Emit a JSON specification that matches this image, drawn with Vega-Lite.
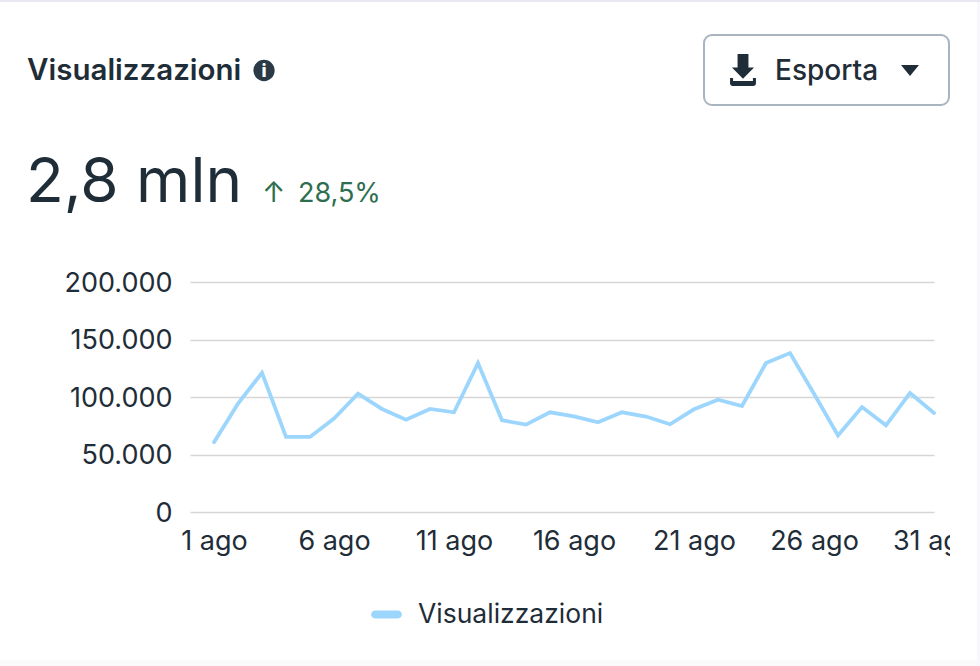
{"$schema":"https://vega.github.io/schema/vega-lite/v6.json","width":744,"height":230,"autosize":{"type":"none"},"padding":{"left":190,"top":282,"right":46,"bottom":154},"background":"#ffffff","config":{"font":"Inter","view":{"stroke":null}},"title":{"text":"Visualizzazioni","anchor":"start","frame":"group","dx":-163,"offset":0,"dy":109,"baseline":"alphabetic","font":"Inter","fontSize":29.5,"fontWeight":600,"color":"#1f2d38"},"layer":[{"data":{"values":[{"date":"2023-08-01","Serie":"Visualizzazioni","v":60700},{"date":"2023-08-02","Serie":"Visualizzazioni","v":94200},{"date":"2023-08-03","Serie":"Visualizzazioni","v":121100},{"date":"2023-08-04","Serie":"Visualizzazioni","v":65300},{"date":"2023-08-05","Serie":"Visualizzazioni","v":65300},{"date":"2023-08-06","Serie":"Visualizzazioni","v":81200},{"date":"2023-08-07","Serie":"Visualizzazioni","v":102900},{"date":"2023-08-08","Serie":"Visualizzazioni","v":89600},{"date":"2023-08-09","Serie":"Visualizzazioni","v":80300},{"date":"2023-08-10","Serie":"Visualizzazioni","v":89600},{"date":"2023-08-11","Serie":"Visualizzazioni","v":86700},{"date":"2023-08-12","Serie":"Visualizzazioni","v":129500},{"date":"2023-08-13","Serie":"Visualizzazioni","v":79800},{"date":"2023-08-14","Serie":"Visualizzazioni","v":76000},{"date":"2023-08-15","Serie":"Visualizzazioni","v":86700},{"date":"2023-08-16","Serie":"Visualizzazioni","v":83200},{"date":"2023-08-17","Serie":"Visualizzazioni","v":78000},{"date":"2023-08-18","Serie":"Visualizzazioni","v":86700},{"date":"2023-08-19","Serie":"Visualizzazioni","v":83000},{"date":"2023-08-20","Serie":"Visualizzazioni","v":76300},{"date":"2023-08-21","Serie":"Visualizzazioni","v":89300},{"date":"2023-08-22","Serie":"Visualizzazioni","v":97700},{"date":"2023-08-23","Serie":"Visualizzazioni","v":92200},{"date":"2023-08-24","Serie":"Visualizzazioni","v":129500},{"date":"2023-08-25","Serie":"Visualizzazioni","v":138200},{"date":"2023-08-26","Serie":"Visualizzazioni","v":102900},{"date":"2023-08-27","Serie":"Visualizzazioni","v":66500},{"date":"2023-08-28","Serie":"Visualizzazioni","v":91300},{"date":"2023-08-29","Serie":"Visualizzazioni","v":75400},{"date":"2023-08-30","Serie":"Visualizzazioni","v":103500},{"date":"2023-08-31","Serie":"Visualizzazioni","v":86100}]},"mark":{"type":"line","strokeWidth":3.8,"strokeCap":"round","strokeJoin":"miter","clip":false},"encoding":{"x":{"field":"date","type":"temporal","title":null,"scale":{"type":"utc","domain":["2023-07-31","2023-08-31"]},"axis":{"values":["2023-08-01","2023-08-06","2023-08-11","2023-08-16","2023-08-21","2023-08-26","2023-08-31"],"labelExpr":"utcFormat(datum.value,'%-d')+' ago'","grid":false,"domain":false,"ticks":false,"labelPadding":16,"labelFontSize":27,"labelColor":"#1f2d38","labelFont":"Inter","labelOverlap":false,"labelBound":false,"labelFlush":false,"labelAngle":0}},"y":{"field":"v","type":"quantitative","title":null,"scale":{"domain":[0,200000]},"axis":{"values":[0,50000,100000,150000,200000],"labelExpr":"replace(format(datum.value,','),',','.')","grid":true,"gridColor":"#d6d6d6","gridWidth":1.6,"domain":false,"ticks":false,"labelPadding":18,"labelOffset":1,"labelFontSize":27,"labelColor":"#1f2d38","labelFont":"Inter"}},"color":{"field":"Serie","type":"nominal","scale":{"range":["#9dd6fd"]},"legend":{"orient":"none","legendX":183,"legendY":319,"direction":"horizontal","title":null,"symbolType":"M-0.85,-0.29 A0.29,0.29 0 0 0 -0.85,0.29 H0.85 A0.29,0.29 0 0 0 0.85,-0.29 Z","symbolSize":729,"symbolStrokeWidth":0,"symbolFillColor":"#9dd6fd","labelFontSize":26.5,"labelLimit":300,"labelColor":"#1f2d38","labelFont":"Inter","labelOffset":18}}}},{"data":{"values":[{"c":"page"}]},"mark":{"type":"rect","fill":"#e9e8f2","clip":false},"encoding":{"x":{"value":-190},"x2":{"value":790},"y":{"value":-282},"y2":{"value":-280}}},{"data":{"values":[{"c":"clip"}]},"mark":{"type":"rect","fill":"#ffffff","clip":false},"encoding":{"x":{"value":760},"x2":{"value":787},"y":{"value":-280},"y2":{"value":378}}},{"data":{"values":[{"c":"page"}]},"mark":{"type":"rect","fill":"#f8f8fc","clip":false},"encoding":{"x":{"value":787},"x2":{"value":790},"y":{"value":-280},"y2":{"value":384}}},{"data":{"values":[{"c":"page"}]},"mark":{"type":"rect","fill":"#fafafb","clip":false},"encoding":{"x":{"value":-190},"x2":{"value":787},"y":{"value":378},"y2":{"value":384}}},{"data":{"values":[{"c":"button"}]},"mark":{"type":"rect","fill":"#ffffff","stroke":"#a8b4c0","strokeWidth":2,"cornerRadius":8,"clip":false},"encoding":{"x":{"value":514},"x2":{"value":759},"y":{"value":-247},"y2":{"value":-177}}},{"data":{"values":[{"t":"Esporta"}]},"mark":{"type":"text","align":"left","baseline":"alphabetic","font":"Inter","fontSize":28,"fontWeight":500,"color":"#1f2d38","clip":false},"encoding":{"text":{"field":"t"},"x":{"value":585},"y":{"value":-202}}},{"data":{"values":[{"t":"download"}]},"mark":{"type":"point","filled":true,"opacity":1,"color":"#1f2d38","size":1024,"strokeWidth":0,"shape":"M-0.34,-1 H0.34 V-0.15 H0.69 L0,0.55 L-0.69,-0.15 H-0.34 Z M-0.81,0.5 H-0.62 V0.68 H0.62 V0.5 H0.81 V0.85 Q0.81,1 0.66,1 H-0.66 Q-0.81,1 -0.81,0.85 Z","clip":false},"encoding":{"x":{"value":553},"y":{"value":-212}}},{"data":{"values":[{"t":"caret"}]},"mark":{"type":"point","filled":true,"opacity":1,"color":"#1f2d38","size":400,"strokeWidth":0,"shape":"M-0.9,-0.5 H0.9 L0,0.6 Z","clip":false},"encoding":{"x":{"value":720},"y":{"value":-212}}},{"data":{"values":[{"t":"info"}]},"mark":{"type":"point","filled":true,"opacity":1,"color":"#2a3a47","size":452,"shape":"circle","clip":false},"encoding":{"x":{"value":74},"y":{"value":-211.5}}},{"data":{"values":[{"t":"i"}]},"mark":{"type":"text","align":"center","baseline":"alphabetic","font":"Inter","fontSize":18,"fontWeight":800,"color":"#ffffff","clip":false},"encoding":{"text":{"field":"t"},"x":{"value":74},"y":{"value":-205}}},{"data":{"values":[{"t":"2,8 mln"}]},"mark":{"type":"text","align":"left","baseline":"alphabetic","font":"Inter","fontSize":62,"fontWeight":400,"color":"#1f2d38","clip":false},"encoding":{"text":{"field":"t"},"x":{"value":-164},"y":{"value":-80}}},{"data":{"values":[{"t":"↑"}]},"mark":{"type":"text","align":"left","baseline":"alphabetic","font":"Inter","fontSize":28,"fontWeight":400,"color":"#2e6e50","clip":false},"encoding":{"text":{"field":"t"},"x":{"value":72},"y":{"value":-80}}},{"data":{"values":[{"t":"28,5%"}]},"mark":{"type":"text","align":"left","baseline":"alphabetic","font":"Inter","fontSize":27,"fontWeight":400,"color":"#2e6e50","clip":false},"encoding":{"text":{"field":"t"},"x":{"value":108},"y":{"value":-80}}}]}
